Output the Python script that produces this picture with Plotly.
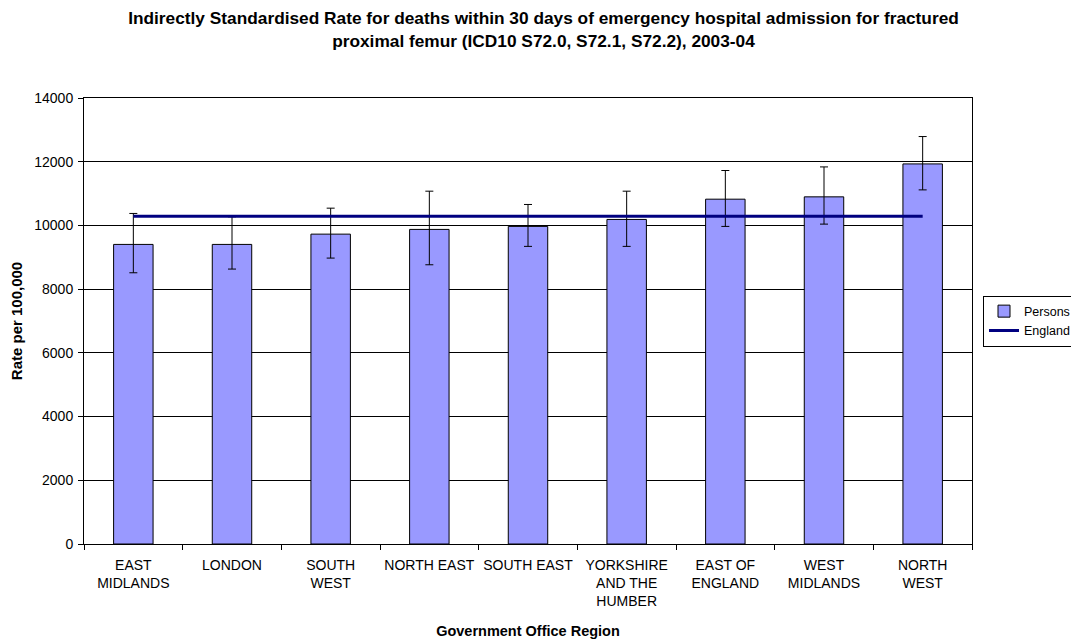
import plotly.graph_objects as go

regions = ["EAST<br>MIDLANDS", "LONDON", "SOUTH<br>WEST", "NORTH EAST", "SOUTH EAST",
           "YORKSHIRE<br>AND THE<br>HUMBER", "EAST OF<br>ENGLAND", "WEST<br>MIDLANDS", "NORTH<br>WEST"]
persons = [9404, 9404, 9727, 9875, 9969, 10188, 10824, 10897, 11931]
ci_upper = [10376, 10270, 10542, 11075, 10658, 11075, 11724, 11837, 12790]
ci_lower = [8514, 8630, 8975, 8765, 9342, 9342, 9969, 10041, 11116]
england_rate = 10292
y_ticks = [0, 2000, 4000, 6000, 8000, 10000, 12000, 14000]

err_plus = [u - v for u, v in zip(ci_upper, persons)]
err_minus = [v - l for v, l in zip(persons, ci_lower)]

font = "Liberation Sans, Arial, sans-serif"

fig = go.Figure()
fig.add_trace(go.Bar(
    x=regions, y=persons, name="Persons",
    marker=dict(color="#9999FF", line=dict(color="#000000", width=1)),
    error_y=dict(type="data", array=err_plus, arrayminus=err_minus, symmetric=False,
                 color="#000000", thickness=1, width=4),
))
fig.add_trace(go.Scatter(
    x=regions, y=[england_rate] * len(regions), name="England", mode="lines",
    line=dict(color="#000080", width=3),
))

fig.update_layout(
    width=1071, height=631,
    paper_bgcolor="white", plot_bgcolor="white",
    margin=dict(l=76, r=107, t=90, b=95, autoexpand=False),
    bargap=0.6,
    font=dict(family=font, size=14, color="#000000"),
    title=dict(
        text="<b>Indirectly Standardised Rate for deaths within 30 days of emergency hospital admission for fractured<br>proximal femur (ICD10 S72.0, S72.1, S72.2), 2003-04</b>",
        x=0.5, xanchor="center", y=0.974, yanchor="top",
        font=dict(family=font, size=17.3, color="#000000"),
    ),
    legend=dict(
        x=1.0124, xanchor="left", y=0.50, yanchor="middle",
        bordercolor="#000000", borderwidth=1, bgcolor="white",
        font=dict(family=font, size=12.5), tracegroupgap=0,
    ),
    xaxis=dict(
        showline=True, linecolor="#000000", linewidth=1, mirror=True,
        ticks="outside", tickson="boundaries", ticklen=5, tickcolor="#000000",
        ticklabelstandoff=8,
        tickfont=dict(size=14), tickangle=0, showgrid=False, automargin=False,
        title=dict(text="<b>Government Office Region</b>", font=dict(size=14.5), standoff=17),
    ),
    yaxis=dict(
        range=[0, 14000], tickvals=y_ticks, tickformat="d",
        showgrid=True, gridcolor="#000000", gridwidth=1,
        showline=True, linecolor="#000000", linewidth=1, mirror=True,
        ticks="outside", ticklen=5, tickcolor="#000000", ticklabelstandoff=2,
        tickfont=dict(size=14), automargin=False,
        title=dict(text="<b>Rate per 100,000</b>", font=dict(size=15), standoff=8),
        zeroline=False,
    ),
)

fig.write_html("out.html")
